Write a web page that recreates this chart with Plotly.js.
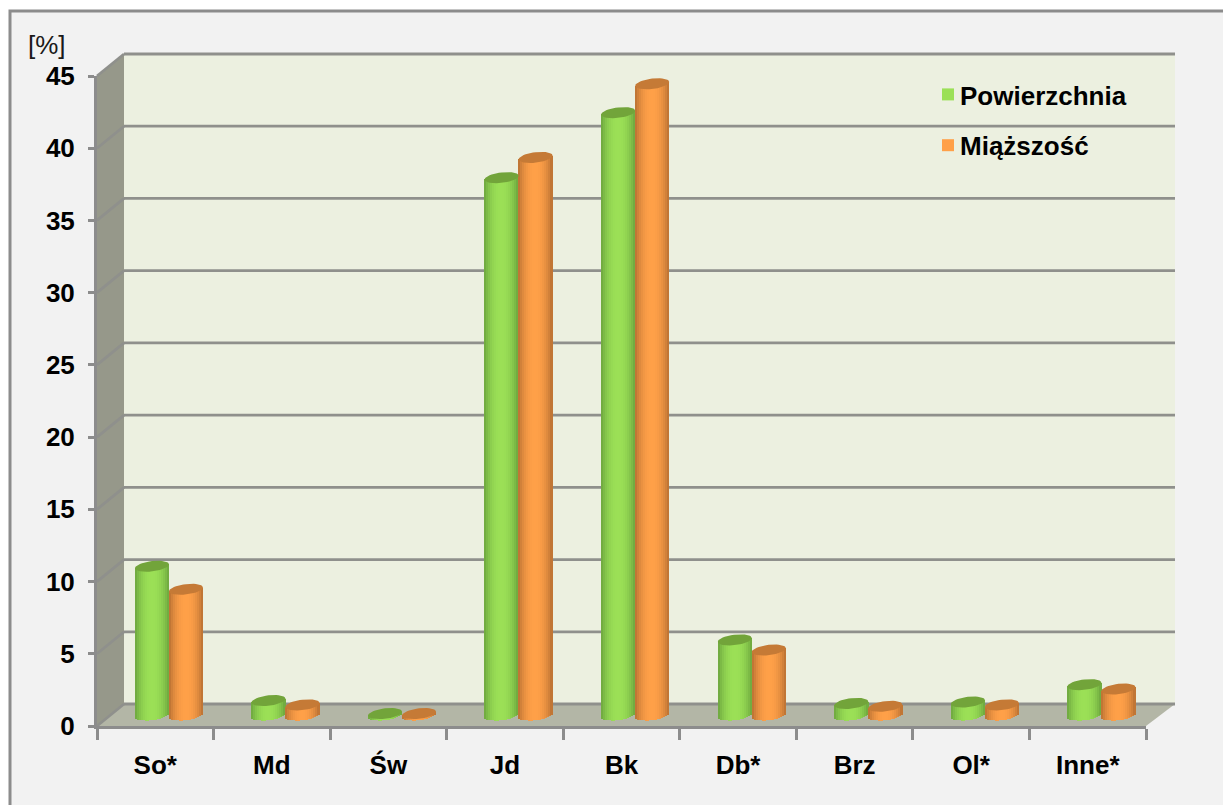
<!DOCTYPE html>
<html><head><meta charset="utf-8">
<script src="https://cdn.plot.ly/plotly-3.0.1.min.js"></script>
<style>html,body{margin:0;padding:0;background:#fff;overflow:hidden}</style>
</head><body><div id="chart" style="width:1223px;height:805px"></div>
<script>
const categories = ['So*','Md','Św','Jd','Bk','Db*','Brz','Ol*','Inne*'];
const powierzchnia = [10.3,1.0,0.1,37.2,41.7,5.2,0.8,0.9,2.1];
const miazszosc = [8.7,0.7,0.1,38.6,43.7,4.5,0.6,0.7,1.8];
const yTicks = [0,5,10,15,20,25,30,35,40,45];
const seriesNames = ['Powierzchnia','Miąższość'];

const W=1223,H=805,L=97,T=76,R=1146,B=726;
const PW=R-L,PH=B-T;
const pxX=PW/9, pxY=PH/45;            // px per data unit
const DX=27, DY=22;                   // wall depth in px
const CYL=34, NS=17;                  // cylinder width, strips
const RY=5.2, TILT=1.9;               // ellipse semi-height and shear, px
const XSHIFT=13.7/pxX, BASE=11/pxY;   // mid-depth shift
const GRID='#8f908c', AX='#8c8c8c';
const palette=[
 {dark:[108,165,62],light:[155,224,86],top:'#72a43a'},
 {dark:[184,112,50],light:[255,160,72],top:'#c57a36'}
];
const X=px=>(px-L)/PW, Yp=py=>(B-py)/PH;
const hex=c=>`rgb(${c.map(v=>Math.round(v)).join(',')})`;

function shade(p,t){
  const f=1-Math.pow(Math.abs(t),2.2);
  return hex(p.dark.map((d,i)=>d+(p.light[i]-d)*f));
}

const traces=[];
[powierzchnia,miazszosc].forEach((vals,s)=>{
  const p=palette[s];
  const left=s===0?-CYL:0;
  for(let k=0;k<NS;k++){
    const sw=CYL/NS;
    const t=(k+0.5)/NS*2-1;
    const low=(RY*Math.sqrt(1-t*t)-TILT*t)/pxY;
    const rise=TILT*t/pxY;
    const mid=k===Math.floor(NS/2);
    traces.push({
      type:'bar',x:categories.map((_,i)=>i),
      y:vals.map(v=>v+low+rise),
      base:BASE-low,
      offset:XSHIFT+(left+k*sw-0.2)/pxX,
      width:(sw+0.4)/pxX,
      marker:{color:shade(p,t),line:{width:0}},
      name:seriesNames[s],legendgroup:seriesNames[s],
      showlegend:mid,hoverinfo:mid?'y+name':'skip'
    });
  }
  // top ellipses
  const ex=[],ey=[];
  vals.forEach((v,i)=>{
    for(let a=0;a<=40;a++){
      const th=a/40*2*Math.PI, t=Math.cos(th);
      ex.push(i+XSHIFT+(left+CYL/2+CYL/2*t)/pxX);
      ey.push(v+BASE+(TILT*t+RY*Math.sin(th))/pxY);
    }
    ex.push(null);ey.push(null);
  });
  traces.push({type:'scatter',mode:'lines',x:ex,y:ey,fill:'toself',fillcolor:p.top,
    line:{width:0,color:p.top},showlegend:false,hoverinfo:'skip',connectgaps:false});
});

const shapes=[
 {type:'rect',xref:'paper',yref:'paper',x0:X(10),x1:X(1300),y0:Yp(11),y1:Yp(900),
  fillcolor:'#f2f2f2',line:{color:AX,width:3},layer:'below'},
 {type:'path',xref:'paper',yref:'paper',layer:'below',line:{width:0},fillcolor:'#ecf0e0',
  path:`M${X(L+DX)},${Yp(T-DY)}L${X(R+DX+2)},${Yp(T-DY)}L${X(R+DX+2)},${Yp(B-DY)}L${X(L+DX)},${Yp(B-DY)}Z`},
 {type:'path',xref:'paper',yref:'paper',layer:'below',line:{width:0},fillcolor:'#96988a',
  path:`M${X(L)},${Yp(T)}L${X(L+DX)},${Yp(T-DY)}L${X(L+DX)},${Yp(B-DY)}L${X(L)},${Yp(B)}Z`},
 {type:'path',xref:'paper',yref:'paper',layer:'below',line:{width:0},fillcolor:'#b3b6a6',
  path:`M${X(L)},${Yp(B)}L${X(L+DX)},${Yp(B-DY)}L${X(R+DX+2)},${Yp(B-DY)}L${X(R)},${Yp(B)}Z`}
];
yTicks.forEach(v=>{
  const y0=v/45, y1=v/45+DY/PH;
  shapes.push({type:'line',xref:'paper',yref:'paper',layer:'below',x0:0,x1:DX/PW,y0:y0,y1:y1,line:{color:GRID,width:2.8}});
  shapes.push({type:'line',xref:'paper',yref:'paper',layer:'below',x0:DX/PW,x1:X(R+DX+2),y0:y1,y1:y1,line:{color:GRID,width:2.8}});
});

const tickFont={family:'"Liberation Sans",Arial,sans-serif',size:26,weight:700,color:'#000000'};
const layout={
 width:W,height:H,showlegend:true,barmode:'overlay',bargap:0,
 paper_bgcolor:'#ffffff',plot_bgcolor:'rgba(0,0,0,0)',
 margin:{l:L,r:W-R,t:T,b:H-B,pad:0},
 font:{family:'"Liberation Sans",Arial,sans-serif'},
 xaxis:{type:'linear',range:[-0.5,8.5],tickmode:'array',
   tickvals:categories.map((_,i)=>i),ticktext:categories,ticks:'',ticklen:0,
   showgrid:false,zeroline:false,showline:true,linecolor:AX,linewidth:3,
   tickfont:tickFont,ticklabelstandoff:14,
   minor:{tickmode:'array',tickvals:[...categories.map((_,i)=>i-0.5),8.5],ticks:'outside',ticklen:11,tickwidth:2.5,tickcolor:AX,showgrid:false}},
 yaxis:{type:'linear',range:[0,45],tickmode:'array',tickvals:yTicks,ticktext:yTicks.map(String),
   ticks:'outside',ticklen:6,tickwidth:2.5,tickcolor:AX,
   showgrid:false,zeroline:false,showline:true,linecolor:AX,linewidth:3,
   tickfont:tickFont,ticklabelstandoff:8},
 legend:{x:X(920),xanchor:'left',y:Yp(71),yanchor:'top',bgcolor:'rgba(0,0,0,0)',borderwidth:0,
   font:{family:'"Liberation Sans",Arial,sans-serif',size:26,weight:700,color:'#000000'},
   traceorder:'grouped',tracegroupgap:14,itemclick:false,itemdoubleclick:false},
 shapes:shapes,
 annotations:[{text:'[%]',xref:'paper',yref:'paper',x:X(47),y:Yp(45),xanchor:'center',yanchor:'middle',
   showarrow:false,font:{family:'"Liberation Sans",Arial,sans-serif',size:26,color:'#1a1a1a'}}]
};
Plotly.newPlot('chart',traces,layout,{displayModeBar:false,responsive:false}).then(()=>{
  // the reference keeps its legend squares close to the text
  document.querySelectorAll('#chart .legendsymbols').forEach(g=>g.setAttribute('transform','translate(8,0)'));
});
</script></body></html>
